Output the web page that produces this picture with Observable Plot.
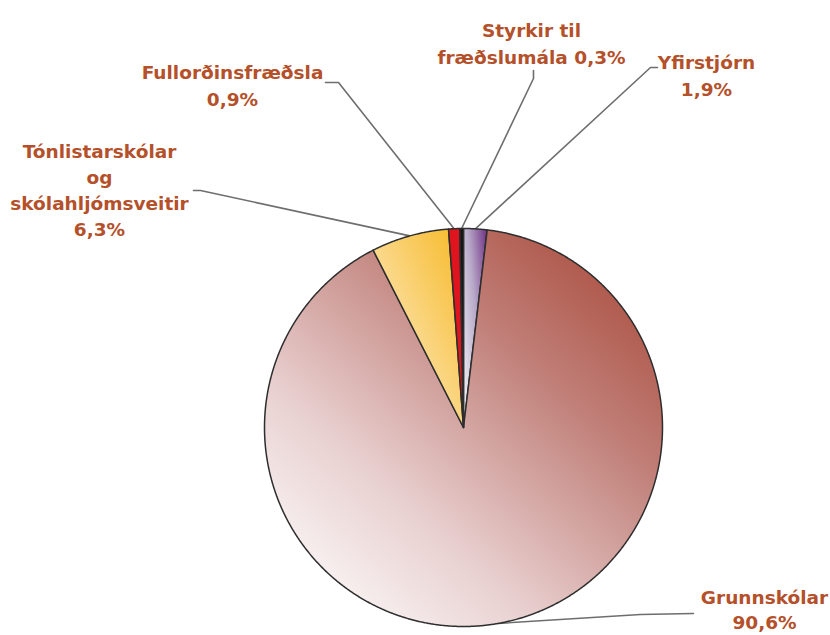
<!DOCTYPE html>
<html>
<head>
<meta charset="utf-8">
<script src="https://cdn.jsdelivr.net/npm/d3@7"></script>
<script src="https://cdn.jsdelivr.net/npm/@observablehq/plot@0.6"></script>
<style>
  html, body { margin: 0; padding: 0; background: #ffffff; }
  #chart { width: 830px; height: 635px; }
</style>
</head>
<body>
<div id="chart"></div>
<script>
// ---- data ----
const categories = ["Yfirstjórn", "Grunnskólar", "Tónlistarskólar og skólahljómsveitir", "Fullorðinsfræðsla", "Styrkir til fræðslumála"];
const values = [1.9, 90.6, 6.3, 0.9, 0.3];
const labelTexts = ["Yfirstjórn\n1,9%", "Grunnskólar\n90,6%", "Tónlistarskólar\nog\nskólahljómsveitir\n6,3%", "Fullorðinsfræðsla\n0,9%", "Styrkir til\nfræðslumála 0,3%"];

// ---- layout / style ----
const W = 830, H = 635;
const cx = 463, cy = 427, R = 199;
const fills = ["url(#gYfir)", "url(#gGrunn)", "url(#gTon)", "#e0141e", "#151515"];
const labelPos = [[706, 73.5], [764, 608], [99, 188.5], [232, 83.5], [531, 41]];
const labelLH = [1.45, 1.35, 1.4, 1.45, 1.5];
const leaderPath = [
  [[650, 67], [657, 67]],
  [[640, 614], [693, 613]],
  [[200, 190], [193, 190]],
  [[338, 82], [325, 82]],
  [[533, 78], [533, 70]]
];

const arcs = d3.pie().sort(null).value(d => d)(values);
const pt = (a, r) => [cx + r * Math.sin(a), cy - r * Math.cos(a)];

const slices = arcs.map((a, i) => {
  const pts = [[cx, cy]];
  const n = Math.max(4, Math.ceil((a.endAngle - a.startAngle) / 0.005));
  for (let k = 0; k <= n; k++) {
    const ang = a.startAngle + (a.endAngle - a.startAngle) * k / n;
    pts.push(pt(ang, R));
  }
  pts.push([cx, cy]);
  return pts.map(p => ({x: p[0], y: p[1], name: categories[i]}));
});

const leaders = arcs.map((a, i) => {
  const mid = (a.startAngle + a.endAngle) / 2;
  const p0 = pt(mid, R);
  return [p0, ...leaderPath[i]].map(p => ({x: p[0], y: p[1], name: categories[i]}));
});

const labelData = categories.map((c, i) => ({name: c, text: labelTexts[i], x: labelPos[i][0], y: labelPos[i][1]}));

const chart = Plot.plot({
  width: W,
  height: H,
  margin: 0,
  x: {domain: [0, W], range: [0, W], axis: null},
  y: {domain: [0, H], range: [0, H], axis: null},
  marks: [
    ...leaders.map(l => Plot.line(l, {x: "x", y: "y", stroke: "#6e6e6e", strokeWidth: 1.6})),
    ...slices.map((s, i) => Plot.line(s, {x: "x", y: "y", fill: fills[i], stroke: "#2e2e2e", strokeWidth: 1.5, strokeLinejoin: "round"})),
    ...labelData.map((d, i) => Plot.text([d], {
      x: "x", y: "y", text: "text",
      fill: "#b4502a",
      fontSize: 18.5,
      fontWeight: "bold",
      fontFamily: "DejaVu Sans",
      lineHeight: labelLH[i],
      textAnchor: "middle"
    }))
  ]
});

// gradient definitions
const ns = "http://www.w3.org/2000/svg";
const defs = document.createElementNS(ns, "defs");
function grad(id, x1, y1, x2, y2, stops) {
  const g = document.createElementNS(ns, "linearGradient");
  g.setAttribute("id", id);
  g.setAttribute("x1", x1); g.setAttribute("y1", y1);
  g.setAttribute("x2", x2); g.setAttribute("y2", y2);
  stops.forEach(([o, c]) => {
    const s = document.createElementNS(ns, "stop");
    s.setAttribute("offset", o);
    s.setAttribute("stop-color", c);
    g.appendChild(s);
  });
  defs.appendChild(g);
}
grad("gGrunn", 1, 0, 0.1, 1, [[0, "#a5402f"], [0.35, "#c07f78"], [0.7, "#e8cfcf"], [1, "#ffffff"]]);
grad("gTon", 1, 0, 0, 1, [[0, "#f6b825"], [1, "#fff4e0"]]);
grad("gYfir", 1, 0, 0, 0.8, [[0, "#6f2f82"], [0.5, "#b7a8c8"], [1, "#ecebf2"]]);
chart.insertBefore(defs, chart.firstChild);

document.getElementById("chart").appendChild(chart);
</script>
</body>
</html>
